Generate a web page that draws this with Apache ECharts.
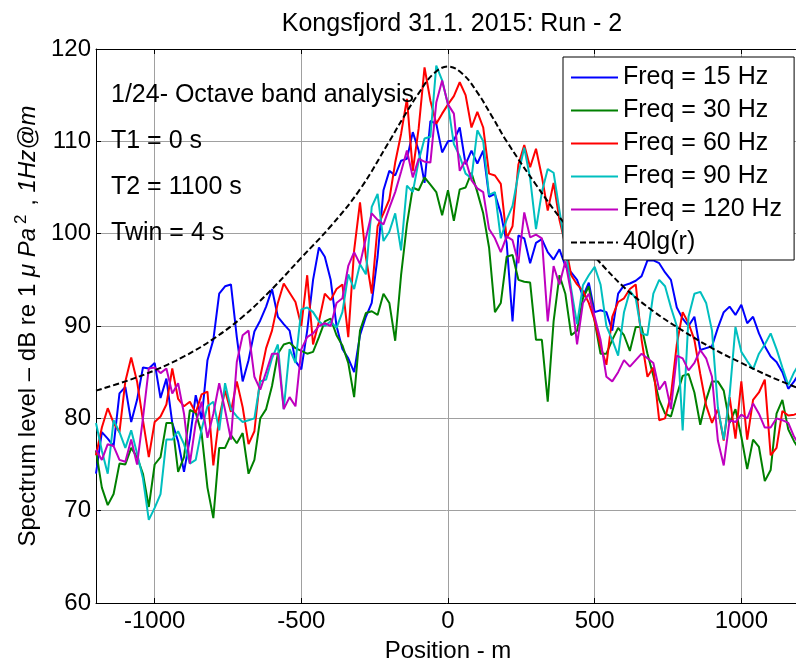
<!DOCTYPE html>
<html>
<head>
<meta charset="utf-8">
<script src="https://cdn.jsdelivr.net/npm/echarts@6/dist/echarts.min.js"></script>
<style>
html,body{margin:0;padding:0;background:#fff;}
#chart{width:796px;height:662px;}
</style>
</head>
<body>
<div id="chart"></div>
<script>
// ---------------- data ----------------
const positions = [
 -1200,-1180,-1160,-1140,-1120,-1100,-1080,-1060,-1040,-1020,
 -1000,-980,-960,-940,-920,-900,-880,-860,-840,-820,
 -800,-780,-760,-740,-720,-700,-680,-660,-640,-620,
 -600,-580,-560,-540,-520,-500,-480,-460,-440,-420,
 -400,-380,-360,-340,-320,-300,-280,-260,-240,-220,
 -200,-180,-160,-140,-120,-100,-80,-60,-40,-20,
 0,
 20,40,60,80,100,120,140,160,180,200,
 220,240,260,280,300,320,340,360,380,400,
 420,440,460,480,500,520,540,560,580,600,
 620,640,660,680,700,720,740,760,780,800,
 820,840,860,880,900,920,940,960,980,1000,
 1020,1040,1060,1080,1100,1120,1140,1160,1180,1200
];

const freq15 = [
 74.0,78.5,77.8,77.0,82.7,83.4,79.6,82.0,85.5,85.4,
 86.0,82.2,84.3,79.5,77.5,74.2,77.8,82.5,79.9,86.3,
 88.5,93.5,94.3,94.5,88.8,84.0,86.3,89.4,90.6,92.1,
 94.0,91.0,90.2,89.5,86.2,85.3,89.5,95.0,98.5,97.5,
 95.0,90.0,87.5,86.5,85.0,89.0,91.0,92.5,97.5,104.7,
 106.8,106.3,107.9,108.1,111.0,109.0,105.5,112.2,111.9,108.8,
 110.0,
 110.1,111.5,107.5,109.0,107.6,109.0,104.0,104.3,102.2,99.0,
 90.5,99.8,99.5,96.8,99.0,99.4,98.0,97.2,98.3,96.5,
 95.8,95.0,93.2,94.7,91.5,91.7,91.5,89.5,93.5,94.4,
 94.6,94.9,95.4,97.1,97.1,96.8,95.8,95.0,92.0,90.8,
 90.0,91.0,87.4,87.6,87.8,89.8,91.5,92.1,91.2,92.3,
 90.3,91.0,89.2,87.8,86.7,86.1,85.0,83.2,84.0,85.0
];

const freq30 = [
 76.5,72.5,70.6,71.8,75.1,75.0,76.8,75.8,74.0,70.4,
 75.0,75.8,79.5,79.5,74.2,75.8,80.9,80.6,78.4,72.5,
 69.2,76.8,76.8,78.2,77.3,78.4,74.0,75.5,80.0,81.0,
 83.5,87.0,88.0,88.2,87.6,87.3,87.0,87.2,88.8,90.5,
 90.8,89.0,87.9,86.0,82.3,89.5,91.4,91.6,91.2,93.5,
 92.5,88.4,95.5,101.0,105.0,104.7,106.1,105.3,104.5,102.0,
 104.7,
 101.4,104.8,105.0,106.6,104.5,102.2,98.5,91.5,92.5,97.5,
 97.7,95.0,94.8,94.7,88.5,88.5,81.8,90.5,95.5,93.5,
 89.0,89.5,93.0,94.3,90.5,87.0,87.0,88.5,89.8,89.0,
 87.3,89.9,89.9,87.0,84.6,82.0,80.5,80.2,82.5,84.6,
 84.8,82.8,79.3,82.0,84.0,84.0,83.0,79.5,81.0,78.0,
 74.5,77.7,76.9,73.2,74.4,80.5,82.0,78.8,77.5,76.5
];

const freq60 = [
 76.0,79.0,81.1,79.5,78.5,84.0,86.6,84.0,79.8,75.8,
 79.6,80.2,81.5,85.4,82.1,81.3,81.8,80.6,82.6,82.9,
 74.9,80.1,83.0,80.7,84.0,81.2,77.2,78.6,84.5,87.6,
 89.5,92.5,94.6,93.6,92.6,90.0,95.5,88.0,90.5,93.5,
 92.8,94.0,94.5,88.8,98.2,103.4,97.5,93.5,100.8,102.2,
 103.7,107.7,110.8,114.6,106.8,111.4,118.0,114.4,111.9,113.0,
 114.0,
 114.9,116.4,115.0,111.5,113.2,111.5,106.5,106.3,105.4,99.5,
 100.8,107.5,109.6,107.2,109.2,106.2,102.5,105.5,101.5,98.8,
 95.5,94.5,93.8,92.5,90.6,87.8,85.8,91.0,92.6,93.0,
 94.0,94.5,88.5,84.5,85.5,79.8,80.0,82.5,88.0,91.5,
 90.3,88.5,84.8,81.4,79.5,81.0,77.6,82.3,77.8,84.0,
 77.7,82.0,82.8,84.2,76.0,76.8,80.8,80.3,80.4,80.6
];

const freq90 = [
 79.5,76.5,74.0,79.8,78.5,76.8,78.7,76.2,73.5,69.0,
 70.3,71.8,77.7,77.7,78.6,77.2,75.1,75.5,78.8,81.3,
 81.8,78.7,83.8,81.0,80.2,79.6,79.8,80.0,84.0,84.2,
 86.5,88.0,81.0,87.5,86.0,91.8,92.0,91.5,90.5,90.0,
 90.5,89.8,91.5,95.6,94.0,96.7,95.6,102.9,104.3,99.2,
 100.2,102.2,98.2,105.2,104.5,107.9,110.3,110.5,118.2,116.6,
 114.0,
 109.7,108.4,106.5,106.0,111.2,110.0,104.2,104.5,99.5,101.5,
 103.0,106.5,109.3,106.0,100.5,104.5,107.0,106.6,102.5,98.5,
 94.0,90.2,94.4,95.5,96.4,94.5,90.0,88.5,86.8,91.5,
 93.8,93.0,89.2,89.0,93.5,95.0,94.3,92.0,90.0,78.7,
 91.0,93.5,93.7,92.5,89.5,81.2,77.7,82.5,89.9,87.2,
 86.2,85.3,87.0,88.0,89.2,87.5,85.5,83.6,85.0,86.0
];

const freq120 = [
 76.6,75.5,77.2,77.0,75.5,75.3,77.7,75.0,80.0,85.4,
 85.5,84.9,85.4,82.7,83.8,80.5,75.1,79.5,81.8,77.9,
 80.5,83.8,80.9,77.7,86.1,89.0,89.5,84.5,83.1,85.0,
 87.0,87.0,81.0,82.3,81.3,87.5,88.8,89.2,90.0,90.3,
 90.0,92.5,93.0,96.5,98.0,96.7,99.5,102.2,101.5,101.0,
 102.8,104.5,106.7,109.0,106.1,108.1,107.8,107.7,114.2,116.6,
 114.0,
 113.0,106.8,108.0,105.8,104.9,104.5,100.5,99.5,98.0,99.7,
 99.3,96.8,102.3,99.6,99.9,99.5,90.5,96.5,94.5,97.0,
 93.5,88.0,92.5,93.5,91.0,88.5,84.5,84.0,85.0,86.3,
 85.6,86.3,87.0,86.5,86.0,83.1,84.0,81.0,86.8,86.5,
 85.2,86.0,87.4,86.5,84.5,77.6,74.9,79.8,79.6,80.4,
 80.0,81.6,80.5,79.0,79.0,80.0,79.8,79.5,78.0,77.0
];

const refPositions = [-1200,-1100,-1000,-900,-800,-700,-600,-500,-400,-300,-200,-150,-100,-50,0,50,100,150,200,300,400,500,600,700,800,900,1000,1100,1200];
const ref40lg = [83.0,84.0,85.2,86.7,88.6,91.0,94.0,97.4,100.8,104.8,110.0,112.7,115.2,117.3,118.1,117.3,115.3,112.7,110.0,105.3,101.0,97.5,94.2,91.6,89.5,87.6,86.0,84.5,83.2];

const seriesNames = ['Freq = 15 Hz','Freq = 30 Hz','Freq = 60 Hz','Freq = 90 Hz','Freq = 120 Hz','40lg(r)'];
const xTicks = [-1000,-500,0,500,1000];
const yTicks = [60,70,80,90,100,110,120];
const titleText = 'Kongsfjord 31.1. 2015: Run - 2';
const notes = ['1/24- Octave band analysis','T1 = 0 s','T2 = 1100 s','Twin = 4 s'];

// ---------------- chart ----------------
const FONT = '"Liberation Sans", Arial, Helvetica, sans-serif';
const colors = ['#0000ff','#008000','#ff0000','#00bfbf','#bf00bf','#000000'];
const allY = [freq15,freq30,freq60,freq90,freq120];
function pairs(xs, ys){ return xs.map((x,i)=>[x, ys[i]]); }

const series = allY.map((ys, k) => ({
  name: seriesNames[k],
  type: 'line',
  data: pairs(positions, ys),
  symbol: 'none',
  showSymbol: false,
  lineStyle: { color: colors[k], width: 2 },
  itemStyle: { color: colors[k], opacity: 0 },
  emphasis: { disabled: true },
  animation: false,
  z: 2
}));
series.push({
  name: seriesNames[5],
  type: 'line',
  data: pairs(refPositions, ref40lg),
  smooth: 0.4,
  symbol: 'none',
  showSymbol: false,
  lineStyle: { color: '#000', width: 2, type: [6, 3] },
  itemStyle: { color: '#000', opacity: 0 },
  emphasis: { disabled: true },
  animation: false,
  z: 3
});

const axisCommon = {
  axisLine: { show: true, onZero: false, lineStyle: { color: '#000', width: 1 } },
  axisTick: { show: true, inside: true, length: 5, lineStyle: { color: '#000' } },
};

const chart = echarts.init(document.getElementById('chart'), null, { renderer: 'canvas' });
chart.setOption({
  animation: false,
  backgroundColor: '#fff',
  title: {
    text: titleText,
    left: 447, top: 7, textAlign: 'center',
    textStyle: { fontSize: 25, fontWeight: 'normal', color: '#000', fontFamily: FONT }
  },
  grid: { left: 96, right: -4, top: 49, bottom: 59, containLabel: false, outerBoundsMode: 'none' },
  legend: {
    orient: 'vertical', left: 563, top: 57,
    itemWidth: 47, itemHeight: 14, itemGap: 8,
    padding: [8, 12, 5, 7],
    borderColor: '#000', borderWidth: 1, borderRadius: 0, backgroundColor: '#fff',
    itemStyle: { opacity: 0, borderWidth: 0 },
    textStyle: { fontSize: 25, color: '#000', fontFamily: FONT, lineHeight: 24 },
    data: seriesNames.map(n => ({ name: n })),
    selectedMode: false
  },
  xAxis: [
    Object.assign({}, axisCommon, {
      type: 'value', min: -1200, max: 1200, position: 'bottom',
      axisTick: { show: true, inside: true, length: 5, lineStyle: { color: '#000' }, customValues: xTicks },
      axisLabel: { customValues: xTicks, margin: 6, fontSize: 24, color: '#000', fontFamily: FONT, formatter: v => String(v) },
      splitLine: { show: true, lineStyle: { color: '#a0a0a0', width: 1 } },
      name: 'Position - m', nameLocation: 'middle', nameGap: 36,
      nameTextStyle: { fontSize: 24, color: '#000', fontFamily: FONT }
    }),
    Object.assign({}, axisCommon, {
      type: 'value', min: -1200, max: 1200, position: 'top',
      axisTick: { show: true, inside: true, length: 5, lineStyle: { color: '#000' }, customValues: xTicks },
      axisLabel: { show: false },
      splitLine: { show: false }
    })
  ],
  yAxis: [
    Object.assign({}, axisCommon, {
      type: 'value', min: 60, max: 120, interval: 10, position: 'left',
      axisLabel: { margin: 5, fontSize: 24, color: '#000', fontFamily: FONT, formatter: v => String(v) },
      splitLine: { show: true, lineStyle: { color: '#a0a0a0', width: 1 } },
      name: '{n|Spectrum level – dB re 1 }{i|μ Pa}{s|2}{n| , }{i|1Hz@m}',
      nameLocation: 'middle', nameRotate: 90, nameGap: 53,
      nameTextStyle: {
        color: '#000', fontFamily: FONT, fontSize: 24,
        rich: {
          n: { fontSize: 24, fontFamily: FONT, color: '#000', lineHeight: 30 },
          i: { fontSize: 24, fontFamily: FONT, fontStyle: 'italic', color: '#000', lineHeight: 30 },
          s: { fontSize: 17, fontFamily: FONT, color: '#000', verticalAlign: 'top', lineHeight: 17, padding: [0, 2, 0, 4] }
        }
      }
    })
  ],
  graphic: notes.map((t, i) => ({
    type: 'text', x: 111, y: [95, 141, 187, 233][i], z: 10, silent: true,
    style: { text: t, fill: '#000', fontSize: 25, fontFamily: FONT, verticalAlign: 'middle', align: 'left' }
  })),
  series: series
});
</script>
</body>
</html>
